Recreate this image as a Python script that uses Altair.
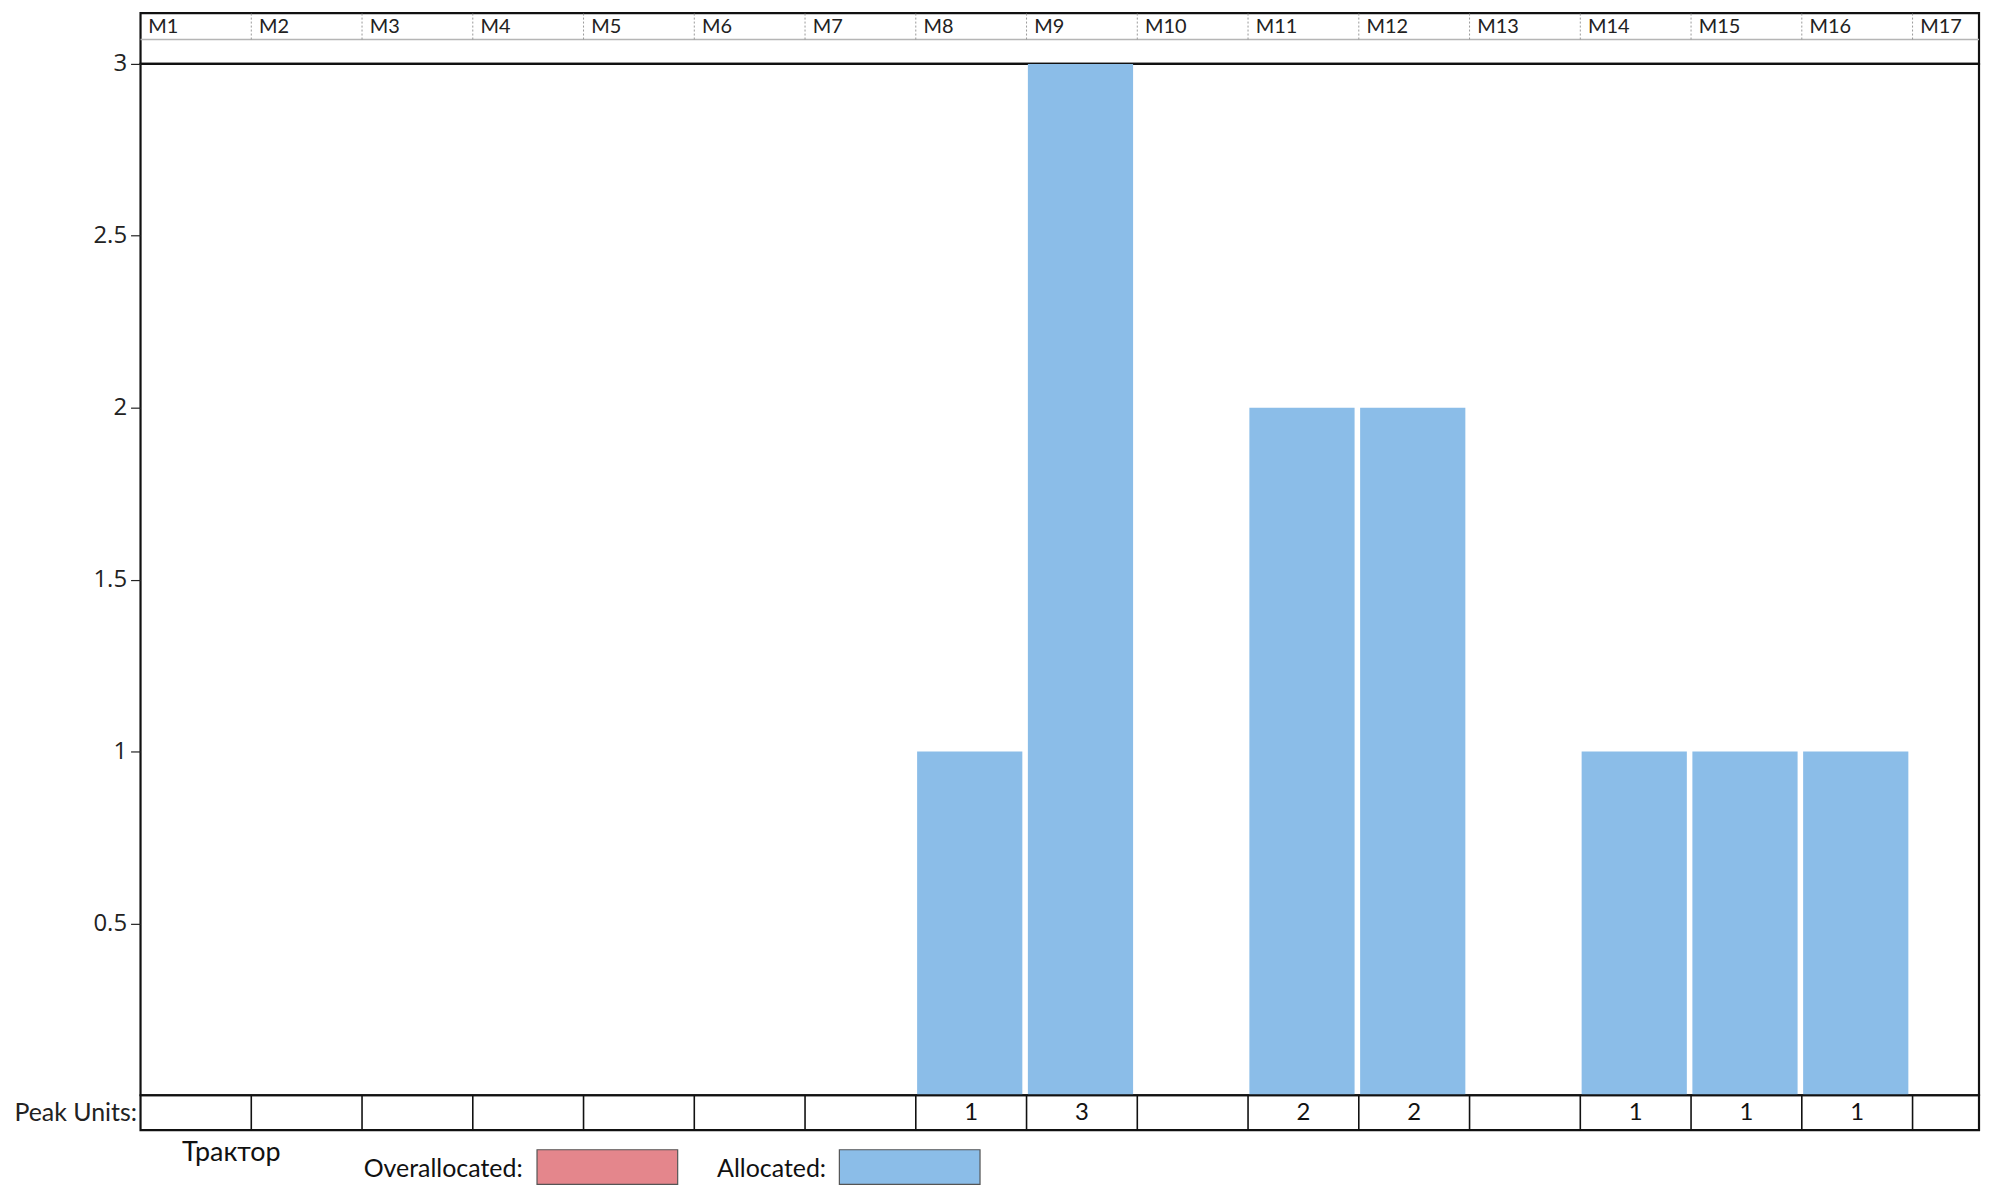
import altair as alt
import pandas as pd

# ---- data ----
months = ["M1", "M2", "M3", "M4", "M5", "M6", "M7", "M8", "M9", "M10",
          "M11", "M12", "M13", "M14", "M15", "M16", "M17"]
peak_units = [0, 0, 0, 0, 0, 0, 0, 1, 3, 0, 2, 2, 0, 1, 1, 1, 0]
y_ticks = [0.5, 1, 1.5, 2, 2.5, 3]
resource_name = "Трактор"
legend_labels = ["Overallocated:", "Allocated:"]
legend_colors = ["#e4868c", "#8bbde8"]
row_label = "Peak Units:"

# ---- layout ----
XMAX = 16.6           # visible columns (the last one is cut off)
W = 1845
H_HDR, H_MAIN, H_PEAK, H_LEG = 51, 1035, 35, 58
LATIN = "Lato, 'Noto Sans'"
NUMF = "Open Sans"
BAR = legend_colors[1]

df = pd.DataFrame({"idx": list(range(len(months))), "month": months, "units": peak_units})
bounds = pd.DataFrame({"b": list(range(1, len(months)))})

xs = alt.Scale(domain=[0, XMAX], nice=False, zero=False)
y01 = alt.Scale(domain=[0, 1], nice=False, zero=False)


def X(f):
    return alt.X(f, scale=xs, axis=None)


def Y01(f):
    return alt.Y(f, scale=y01, axis=None)


# ---- header row (month names) ----
hdr_text = alt.Chart(df).transform_calculate(
    hx="datum.idx + 0.07", hy="0.72"
).mark_text(align="left", baseline="middle", font=LATIN, fontSize=20, color="#222").encode(
    x=X("hx:Q"), y=Y01("hy:Q"), text="month:N"
)
hdr_sep = alt.Chart(bounds).transform_calculate(ya="0.48", yb="1").mark_rule(
    color="#9a9a9a", strokeDash=[2, 2], strokeWidth=1
).encode(x=X("b:Q"), y=Y01("ya:Q"), y2="yb:Q")
hdr_line = alt.Chart(pd.DataFrame({"a": [0.0], "e": [XMAX], "y": [0.48]})).mark_rule(
    color="#b5b5b5", strokeWidth=1.5
).encode(x=X("a:Q"), x2="e:Q", y=Y01("y:Q"))
header = alt.layer(hdr_line, hdr_sep, hdr_text).properties(width=W, height=H_HDR)

# ---- main histogram ----
bars = alt.Chart(df).transform_filter("datum.units > 0").transform_calculate(
    x0="datum.idx + 0.012", x1="datum.idx + 0.962", y0="0"
).mark_rect(color=BAR).encode(
    x=X("x0:Q"), x2="x1:Q",
    y=alt.Y("units:Q", scale=alt.Scale(domain=[0, 3], nice=False, zero=True),
            axis=alt.Axis(values=y_ticks, title=None, grid=False, domain=False,
                          format="~g",
                          tickSize=10, tickColor="#222", tickWidth=1.2,
                          labelFont=NUMF, labelFontSize=24, labelColor="#222",
                          labelPadding=4)),
    y2="y0:Q",
)
main = alt.layer(bars).properties(width=W, height=H_MAIN)

# ---- peak units row ----
peak_df = df.copy()
peak_df["row"] = row_label
peak_df["txt"] = [str(v) if v > 0 else "" for v in peak_units]
peak_text = alt.Chart(peak_df).transform_calculate(px="datum.idx + 0.5").mark_text(
    align="center", baseline="middle", font=LATIN, fontSize=24, color="#111"
).encode(
    x=X("px:Q"),
    y=alt.Y("row:N", axis=alt.Axis(title=None, ticks=False, domain=False,
                                   labelFont=LATIN, labelFontSize=25,
                                   labelColor="#222", labelPadding=4)),
    text="txt:N",
)
peak_sep = alt.Chart(bounds).mark_rule(color="#111", strokeWidth=1.6).encode(x=X("b:Q"))
peak = alt.layer(peak_sep, peak_text).properties(width=W, height=H_PEAK)

# ---- bottom legend ----
leg_text = pd.DataFrame({
    "t": [resource_name] + legend_labels,
    "lx": [0.82, 3.45, 6.19],
    "ly": [0.6, 0.33, 0.33],
})
leg_box = pd.DataFrame({
    "name": legend_labels,
    "c": legend_colors,
    "x0": [3.58, 6.31], "x1": [4.85, 7.58],
    "y0": [0.06, 0.06], "y1": [0.66, 0.66],
})
lt_center = alt.Chart(leg_text.iloc[[0]]).mark_text(
    align="center", baseline="middle", font=LATIN, fontSize=27, color="#111"
).encode(x=X("lx:Q"), y=Y01("ly:Q"), text="t:N")
lt_right = alt.Chart(leg_text.iloc[1:]).mark_text(
    align="right", baseline="middle", font=LATIN, fontSize=25, color="#111"
).encode(x=X("lx:Q"), y=Y01("ly:Q"), text="t:N")
lboxes = alt.Chart(leg_box).mark_rect(stroke="#555", strokeWidth=1.2).encode(
    x=X("x0:Q"), x2="x1:Q", y=Y01("y0:Q"), y2="y1:Q",
    color=alt.Color("c:N", scale=None, legend=None),
)
legend = alt.layer(lboxes, lt_center, lt_right).properties(
    width=W, height=H_LEG, view=alt.ViewBackground(strokeOpacity=0)
)

chart = alt.vconcat(header, main, peak, legend, spacing=0, bounds="flush").properties(
    padding={"left": 4, "top": 1, "right": 0, "bottom": 0},
    background="white",
).configure_view(stroke="#111", strokeWidth=2.2).configure_concat(spacing=0)

chart.save("out.html", embed_options={"renderer": "svg", "actions": False})
